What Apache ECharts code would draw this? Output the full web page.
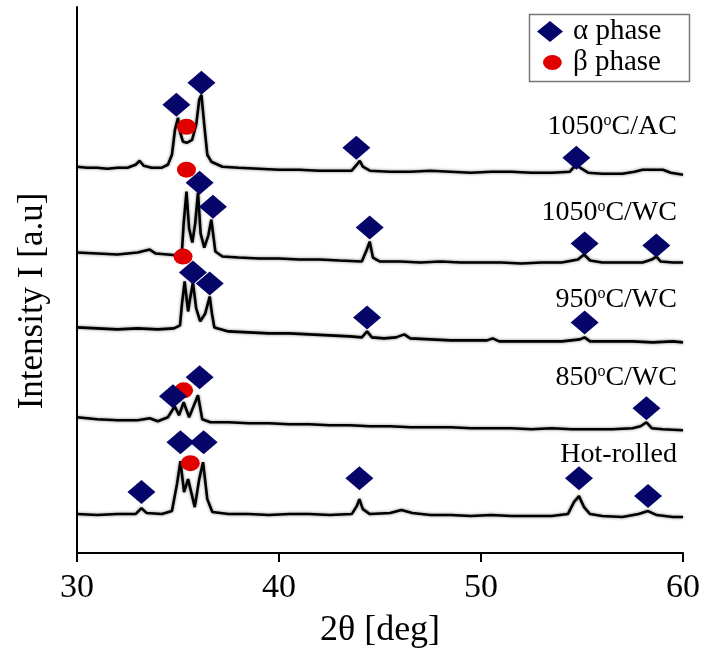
<!DOCTYPE html>
<html>
<head>
<meta charset="utf-8">
<script src="https://cdn.jsdelivr.net/npm/echarts@6/dist/echarts.min.js"></script>
<style>
  html, body { margin: 0; padding: 0; background: #fff; }
  #xrd { width: 704px; height: 654px; }
</style>
</head>
<body>
<div id="xrd"></div>
<script>
// XRD traces, [2θ, intensity (a.u., stacked with offset)]
const ac1050 = [[30,387],[30.5,386],[31,386],[31.5,385],[32,386],[32.5,386],[32.9,389],[33.1,393],[33.3,388],[33.7,386],[34.2,386],[34.5,389],[34.7,399],[34.85,424],[35,436],[35.1,422],[35.25,412],[35.45,411],[35.7,414],[35.9,429],[36.05,454],[36.16,459],[36.3,429],[36.45,399],[36.65,392],[37.2,387],[38,386],[39,385],[40,384],[41,384],[42,383],[43,383],[43.6,383],[43.85,389],[44,393],[44.15,387],[44.5,383],[45.5,382],[46.5,382],[47.5,383],[48.5,382],[49.5,381],[50.5,382],[51.5,382],[52.5,381],[53.5,381],[54.4,382],[54.7,389],[54.9,386],[55.3,381],[56,380],[57,380],[57.6,382],[58,384],[59,384],[59.4,381],[60,379]];
const wc1050 = [[30,301],[31,300],[32,299],[33,301],[33.6,304],[33.9,300],[34.5,299],[35,298],[35.2,304],[35.28,330],[35.42,362],[35.55,325],[35.71,311],[35.85,330],[35.99,361],[36.12,320],[36.3,306],[36.5,318],[36.65,334],[36.75,318],[36.85,302],[37.2,297],[38,296],[39,295],[40,295],[41,294],[42,294],[43,293],[44.1,292],[44.35,304],[44.49,312],[44.65,296],[45,292],[46,292],[47,291],[48,292],[49,291],[50,291],[51,291],[52,290],[53,291],[54,291],[54.8,294],[55.1,299],[55.4,293],[56,291],[57,291],[58,291],[58.45,294],[58.68,297],[58.9,292],[59.5,291],[60,291]];
const wc950 = [[30,226],[31,225],[32,224],[33,225],[34,224],[34.8,225],[35.1,228],[35.2,250],[35.33,272],[35.5,242],[35.6,255],[35.74,271],[35.9,245],[36.1,232],[36.35,240],[36.57,257],[36.68,240],[36.8,226],[37.5,222],[38.5,221],[39.5,220],[40.5,220],[41.5,219],[42.5,218],[43.5,217],[44.1,216],[44.36,222],[44.6,216],[45.2,215],[45.8,216],[46.2,219],[46.5,215],[47.5,214],[48.5,213],[49.5,213],[50.3,213],[50.58,215],[50.9,212],[52,212],[53,212],[54,212],[54.9,214],[55.13,216],[55.4,212],[56.5,212],[57.5,212],[58.5,211],[59.5,212],[60,211]];
const wc850 = [[30,136],[31,134],[32,133],[33,133],[33.6,135],[34,132],[34.5,136],[34.84,147],[35.05,138],[35.28,151],[35.55,136],[35.99,158],[36.2,134],[36.6,131],[37.5,131],[38.5,130],[39.5,130],[40.5,129],[41.5,129],[42.5,128],[43.5,128],[44.5,127],[45.5,127],[46.5,126],[47.5,126],[48.5,126],[49.5,125],[50.5,125],[51.5,125],[52.5,124],[53.5,125],[54.5,124],[55.5,124],[56.5,124],[57.5,125],[57.9,127],[58.19,131],[58.45,125],[59,124],[60,123]];
const hotRolled = [[30,39],[31,38],[32,39],[32.9,39],[33.19,45],[33.45,40],[34.2,39],[34.7,42],[34.95,69],[35.12,92],[35.3,61],[35.5,74],[35.83,46],[36.05,74],[36.24,91],[36.45,54],[36.7,41],[37.5,39],[38.5,39],[39.5,38],[40.5,39],[41.5,39],[42.5,38],[43.6,39],[43.85,47],[43.98,54],[44.15,44],[44.5,39],[45.5,40],[46.06,43],[46.6,40],[47.5,38],[48.5,38],[49.5,37],[50.5,38],[51.5,37],[52.5,37],[53.5,37],[54.3,39],[54.6,51],[54.85,57],[55.1,46],[55.4,39],[56,37],[57,36],[57.8,39],[58.27,42],[58.7,38],[59.5,36],[60,36]];

// phase markers [2θ, intensity]
const alphaPeaks = [[34.92,449],[36.16,471],[43.83,406],[54.72,396],
  [36.07,371],[36.73,347],[44.49,326],[55.13,310],[58.68,308],
  [35.74,281],[36.57,270],[44.36,236],[55.13,231],
  [34.75,157],[36.07,176],[58.19,145],
  [33.19,61],[35.12,111],[36.27,111],[43.98,75],[54.85,75],[58.27,57]];
const betaPeaks = [[35.42,427],[35.42,384],[35.25,297],[35.28,163],[35.61,90]];

// sample labels
const sampleNames = ['1050{s|o}C/AC', '1050{s|o}C/WC', '950{s|o}C/WC', '850{s|o}C/WC', 'Hot-rolled'];
const labelPos = [[59.7,427],[59.7,341],[59.7,254],[59.7,176],[59.7,99]];
const xTicks = [30, 40, 50, 60];

const serif = 'Liberation Serif';
const ellipse = 'path://M10,0A10,8,0,1,1,10,16A10,8,0,1,1,10,0Z';
const chart = echarts.init(document.getElementById('xrd'));

const traces = [ac1050, wc1050, wc950, wc850, hotRolled].map((d) => ({
  type: 'line',
  data: d,
  showSymbol: false,
  silent: true,
  lineStyle: { color: '#000', width: 2.6, shadowColor: 'rgba(0,0,0,0.5)', shadowBlur: 3 },
  z: 2
}));

chart.setOption({
  animation: false,
  grid: { left: 77, right: 21, top: 7, bottom: 100 },
  xAxis: {
    type: 'value', min: 30, max: 60, interval: 10,
    name: '2θ [deg]', nameLocation: 'middle', nameGap: 60,
    nameTextStyle: { fontFamily: serif, fontSize: 36, color: '#000' },
    axisLine: { lineStyle: { color: '#000', width: 2 } },
    axisTick: { length: 9, lineStyle: { color: '#000', width: 2 } },
    axisLabel: { fontFamily: serif, fontSize: 34, color: '#000', margin: 18,
      customValues: xTicks },
    splitLine: { show: false }
  },
  yAxis: {
    type: 'value', min: 0, max: 547,
    name: 'Intensity I [a.u]', nameLocation: 'middle', nameGap: 27,
    nameTextStyle: { fontFamily: serif, fontSize: 35, color: '#000', padding: [0, 42, 0, 0] },
    axisLine: { show: true, lineStyle: { color: '#000', width: 2 } },
    axisTick: { show: false },
    axisLabel: { show: false },
    splitLine: { show: false }
  },
  legend: [
    { data: [{ name: 'α phase', icon: 'diamond', itemStyle: { opacity: 1 } }], left: 537, top: 17, padding: 0,
      itemWidth: 26, itemHeight: 21,
      textStyle: { fontFamily: serif, fontSize: 29, lineHeight: 28, color: '#000', padding: [0, 0, 0, 5] } },
    { data: [{ name: 'β phase', icon: ellipse, itemStyle: { opacity: 1 } }], left: 543, top: 48, padding: 0,
      itemWidth: 19, itemHeight: 15,
      textStyle: { fontFamily: serif, fontSize: 29, lineHeight: 28, color: '#000', padding: [0, 0, 0, 6] } }
  ],
  graphic: [{
    type: 'rect', left: 527, top: 12, silent: true,
    shape: { width: 160, height: 67 },
    style: { fill: 'none', stroke: '#777', lineWidth: 1.5 }
  }],
  series: [
    ...traces,
    {
      name: 'α phase', type: 'scatter', data: alphaPeaks,
      symbol: 'diamond', symbolSize: [28, 24],
      itemStyle: { color: '#06066a', opacity: 1 }, z: 5
    },
    {
      name: 'β phase', type: 'scatter', data: betaPeaks,
      symbol: ellipse, symbolSize: [19, 16],
      itemStyle: { color: '#e00000', opacity: 1 }, z: 4
    },
    {
      type: 'scatter', silent: true, symbolSize: 0, z: 6,
      itemStyle: { opacity: 1 },
      data: labelPos.map((p, i) => ({ value: p, name: sampleNames[i] })),
      label: {
        show: true, position: 'left', distance: 0,
        formatter: (p) => p.name,
        fontFamily: serif, fontSize: 28, lineHeight: 28, color: '#000',
        rich: { s: { fontFamily: serif, fontSize: 16, lineHeight: 16, verticalAlign: 'top', color: '#000' } }
      }
    }
  ]
});
</script>
</body>
</html>
